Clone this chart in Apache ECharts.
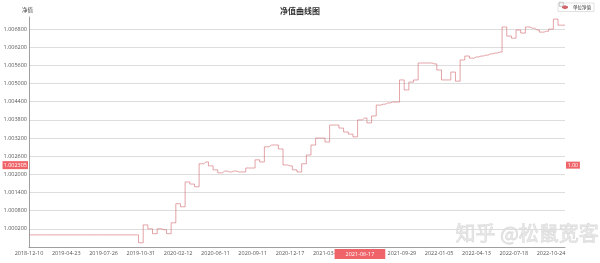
<!DOCTYPE html>
<html>
<head>
<meta charset="utf-8">
<script src="https://cdn.jsdelivr.net/npm/echarts@6/dist/echarts.min.js"></script>
<style>html,body{margin:0;padding:0;background:#fff}#c{width:600px;height:263px}</style>
</head>
<body>
<div id="c"></div>
<script>
var dates = [
'2018-12-10','2018-12-27','2019-01-15','2019-01-31','2019-02-20','2019-03-07','2019-03-22','2019-04-08',
'2019-04-23','2019-05-07','2019-05-17','2019-05-29','2019-06-11','2019-06-24','2019-07-04','2019-07-16',
'2019-07-26','2019-08-07','2019-08-19','2019-08-29','2019-09-10','2019-09-23','2019-10-10','2019-10-21',
'2019-10-31','2019-11-13','2019-11-26','2019-12-06','2019-12-19','2019-12-31','2020-01-13','2020-01-22',
'2020-02-12','2020-02-26','2020-03-11','2020-03-25','2020-04-08','2020-04-22','2020-05-11','2020-05-26',
'2020-06-11','2020-06-23','2020-07-06','2020-07-16','2020-07-28','2020-08-07','2020-08-19','2020-08-31',
'2020-09-11','2020-09-24','2020-10-14','2020-10-26','2020-11-05','2020-11-17','2020-11-27','2020-12-08',
'2020-12-17','2020-12-29','2021-01-11','2021-01-21','2021-02-02','2021-02-19','2021-03-03','2021-03-15',
'2021-03-25','2021-04-07','2021-04-19','2021-04-29','2021-05-13','2021-05-25','2021-06-04','2021-06-17',
'2021-06-29','2021-07-09','2021-07-21','2021-08-02','2021-08-12','2021-08-24','2021-09-03','2021-09-16',
'2021-09-29','2021-10-15','2021-10-27','2021-11-08','2021-11-18','2021-11-30','2021-12-10','2021-12-22',
'2022-01-05','2022-01-17','2022-01-27','2022-02-15','2022-02-25','2022-03-09','2022-03-21','2022-03-31',
'2022-04-13','2022-04-25','2022-05-10','2022-05-20','2022-06-01','2022-06-14','2022-06-24','2022-07-06',
'2022-07-18','2022-07-28','2022-08-09','2022-08-19','2022-08-31','2022-09-13','2022-09-23','2022-10-12',
'2022-10-24','2022-11-03','2022-11-15','2022-11-25'
];
var nav = [
1.0000,1.0000,1.0000,1.0000,1.0000,1.0000,1.0000,1.0000,
1.0000,1.0000,1.0000,1.0000,1.0000,1.0000,1.0000,1.0000,
1.0000,1.0000,1.0000,1.0000,1.0000,1.0000,1.0000,1.0000,
0.99974,1.00033,1.00020,1.00004,1.00020,1.00017,1.00004,1.00040,
1.00103,1.00093,1.00175,1.00168,1.00159,1.00235,1.00241,1.00228,
1.00215,1.00205,1.00211,1.00208,1.00211,1.00208,1.00208,1.00221,
1.00221,1.00248,1.00241,1.00291,1.00297,1.00297,1.00284,1.00231,
1.00228,1.00215,1.00208,1.00235,1.00264,1.00297,1.00320,1.00320,
1.00307,1.00363,1.00363,1.00353,1.00340,1.00333,1.00324,1.00380,
1.00386,1.00370,1.00393,1.00429,1.00432,1.00436,1.00439,1.00439,
1.00512,1.00479,1.00505,1.00512,1.00568,1.00568,1.00568,1.00565,
1.00545,1.00512,1.00512,1.00538,1.00508,1.00578,1.00591,1.00584,
1.00588,1.00591,1.00594,1.00598,1.00601,1.00604,1.00687,1.00657,
1.00650,1.00677,1.00667,1.00687,1.00683,1.00677,1.00670,1.00673,
1.00680,1.00713,1.00693,1.00693
];
var pointerDate = '2021-06-17';
var pointerValue = 1.002305;

var numFont = 'Open Sans';
var chart = echarts.init(document.getElementById('c'), null, {renderer: 'canvas'});
chart.setOption({
  animation: false,
  title: {
    text: '净值曲线图', left: 'center', top: 2,
    textStyle: {fontSize: 8, fontWeight: 'bold', color: '#333', fontFamily: 'Noto Sans CJK SC'}
  },
  legend: {
    right: 6, top: 3, data: ['单位净值'],
    borderColor: '#ccc', borderWidth: 0.6, padding: [2, 3],
    itemWidth: 6, itemHeight: 5, itemGap: 2,
    textStyle: {fontSize: 4.5, color: '#333', fontFamily: 'Noto Sans CJK SC'}
  },
  grid: {left: 29, right: 35, top: 17, bottom: 16, containLabel: false},
  xAxis: {
    type: 'category', data: dates, boundaryGap: false,
    axisLine: {lineStyle: {color: '#888', width: 0.8}},
    axisTick: {show: false},
    axisLabel: {interval: 7, fontSize: 5.5, color: '#555', margin: 3, fontFamily: numFont},
    axisPointer: {
      show: true, value: pointerDate, status: 'show', triggerTooltip: false,
      lineStyle: {opacity: 0},
      label: {show: true, backgroundColor: '#ef6469', color: '#fff', fontSize: 5.5, padding: [2, 11, 2, 11], margin: 2, borderRadius: 0, fontFamily: numFont}
    }
  },
  yAxis: [{
    type: 'value', min: 0.9996, max: 1.0072, interval: 0.0006,
    name: '净值', nameLocation: 'end', nameGap: 4,
    nameTextStyle: {fontSize: 5.5, color: '#444', align: 'center', padding: [0, 3, 0, 0], fontFamily: 'Noto Sans CJK SC'},
    axisLine: {show: true, lineStyle: {color: '#888', width: 0.8}},
    axisTick: {show: false},
    splitLine: {show: true, showMinLine: false, showMaxLine: false, lineStyle: {color: '#ddd', width: 1}},
    axisLabel: {
      fontSize: 5.5, color: '#555', margin: 2, showMinLabel: false, showMaxLabel: false, fontFamily: numFont,
      formatter: function (v) { return v.toFixed(6); }
    },
    axisPointer: {
      show: true, value: pointerValue, status: 'show', triggerTooltip: false,
      lineStyle: {opacity: 0},
      label: {show: true, backgroundColor: '#ef6469', color: '#fff', fontSize: 5.5, padding: [1, 1, 1, 1], margin: 1, borderRadius: 0, fontFamily: numFont,
        formatter: function (p) { return p.value.toFixed(6); }}
    }
  }, {
    type: 'value', min: 0.9996, max: 1.0072, position: 'right',
    axisLine: {show: false}, axisTick: {show: false}, splitLine: {show: false},
    axisLabel: {show: false},
    axisPointer: {
      show: true, value: pointerValue, status: 'show', triggerTooltip: false,
      lineStyle: {opacity: 0},
      label: {show: true, backgroundColor: '#ef6469', color: '#fff', fontSize: 5, padding: [1, 2, 1, 2], margin: 1, borderRadius: 0, fontFamily: numFont,
        formatter: function (p) { return p.value.toFixed(2); }}
    }
  }],
  series: [{
    name: '单位净值', type: 'line', data: nav, step: 'middle',
    showSymbol: false, symbol: 'none',
    lineStyle: {color: '#d2666b', width: 0.6},
    itemStyle: {color: '#d2666b'}
  }],
  graphic: [{
    type: 'rect', left: 559, top: 2, silent: true,
    shape: {width: 4, height: 4},
    style: {fill: '#fff', stroke: '#888', lineWidth: 0.5}
  }, {
    type: 'text', left: 455, top: 223, silent: true,
    style: {text: '知乎 @松鼠宽客', font: '20px "Noto Sans CJK SC"', fill: 'rgba(220,220,220,0.5)', stroke: 'rgba(190,190,190,0.5)', lineWidth: 0.8}
  }]
});
</script>
</body>
</html>
